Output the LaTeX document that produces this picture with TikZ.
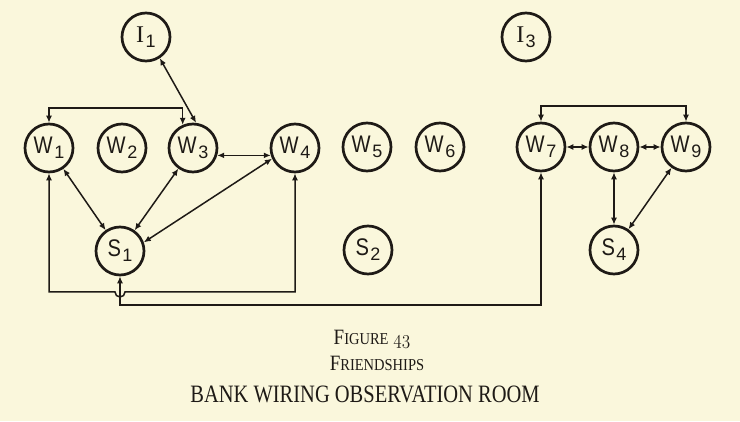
\documentclass[tikz,border=0pt]{standalone}
\usepackage{fontspec}
\usetikzlibrary{arrows.meta,calc}
\newfontfamily\lblfont{Liberation Sans}
\newfontfamily\lblserif{Liberation Serif}
\newfontfamily\capfont{Liberation Serif}
\definecolor{paper}{RGB}{250,247,220}
\definecolor{ink}{RGB}{30,26,22}
\newcommand\nm[2]{\scalebox{0.84}[1]{#1}\hspace{1.5pt}\raisebox{-5pt}{\fontsize{18}{18}\selectfont #2}}
\newcommand\nmI[2]{{\lblserif #1}\hspace{1.5pt}\raisebox{-5pt}{\fontsize{18}{18}\selectfont #2}}
\newcommand\fsc[2]{#1{\fontsize{14.5}{14.5}\selectfont #2}}
\newcommand\osnum[1]{{\usefont{OML}{cmm}{m}{it}#1}}
\begin{document}
\begin{tikzpicture}[x=1pt,y=1pt,
  person/.style={circle,draw=ink,line width=2.7pt,minimum size=48pt,inner sep=0pt,
    font=\lblfont\fontsize{24}{24}\selectfont,text=ink},
  link/.style={draw=ink,line width=1.5pt,
    {Latex[length=7pt,width=6pt]}-{Latex[length=7pt,width=6pt]}},
  caption/.style={text=ink,anchor=base,inner sep=0pt}]
\fill[paper] (0,0) rectangle (740,421);
\useasboundingbox (0,0) rectangle (740,421);
% nodes
\node[person] (I1) at (146,384) {\nmI{I}{1}};
\node[person] (I3) at (526,384) {\nmI{I}{3}};
\node[person] (W1) at (49,273) {\nm{W}{1}};
\node[person] (W2) at (122,273) {\nm{W}{2}};
\node[person] (W3) at (193,273) {\nm{W}{3}};
\node[person] (W4) at (295,273) {\nm{W}{4}};
\node[person] (W5) at (367,274) {\nm{W}{5}};
\node[person] (W6) at (440,274) {\nm{W}{6}};
\node[person] (W7) at (541,274) {\nm{W}{7}};
\node[person] (W8) at (614,274) {\nm{W}{8}};
\node[person] (W9) at (686,274) {\nm{W}{9}};
\node[person] (S1) at (120,170) {\nm{S}{1}};
\node[person] (S2) at (368,171) {\nm{S}{2}};
\node[person] (S4) at (614,171) {\nm{S}{4}};
% helper levels
\coordinate (topL) at (0,313);
\coordinate (topR) at (0,315);
\coordinate (loopY) at (0,129);
\coordinate (busY) at (0,116);
% connectors left group
\draw[link] (W1.north) -- (W1.north |- topL) -| (W3.114);
\draw[link] (I1.-57) -- (W3.83);
\draw[link] (W3.-17) -- (W4.197);
\draw[link] (W1) -- (S1);
\draw[link] (W3) -- (S1);
\draw[link] (W4.205) -- (S1.20);
\draw[link] (W1.south) -- (W1.south |- loopY) -- ($(S1.south |- loopY)+(-5,0)$)
  arc[start angle=180,end angle=360,radius=5pt] -- (W4.south |- loopY) -- (W4.south);
\draw[link] (S1.south) -- (S1.south |- busY) -| (W7.south);
% right group
\draw[link] (W7.north) -- (W7.north |- topR) -| (W9.north);
\draw[link] (W7) -- (W8);
\draw[link] (W8) -- (W9);
\draw[link] (W8) -- (S4);
\draw[link] (W9) -- (S4);
% captions
\node[caption] (cap1) at (372,76) {\scalebox{1}[1.15]{\capfont\fontsize{19}{19}\selectfont\fsc{F}{IGURE} \osnum{43}}};
\node[caption] (cap2) at (377,51) {\scalebox{1}[1.15]{\capfont\fontsize{19}{19}\selectfont\fsc{F}{RIENDSHIPS}}};
\node[caption] (cap3) at (365,19) {\scalebox{1}[1.22]{\capfont\fontsize{20.5}{20.5}\selectfont BANK WIRING OBSERVATION ROOM}};
\end{tikzpicture}
\end{document}
